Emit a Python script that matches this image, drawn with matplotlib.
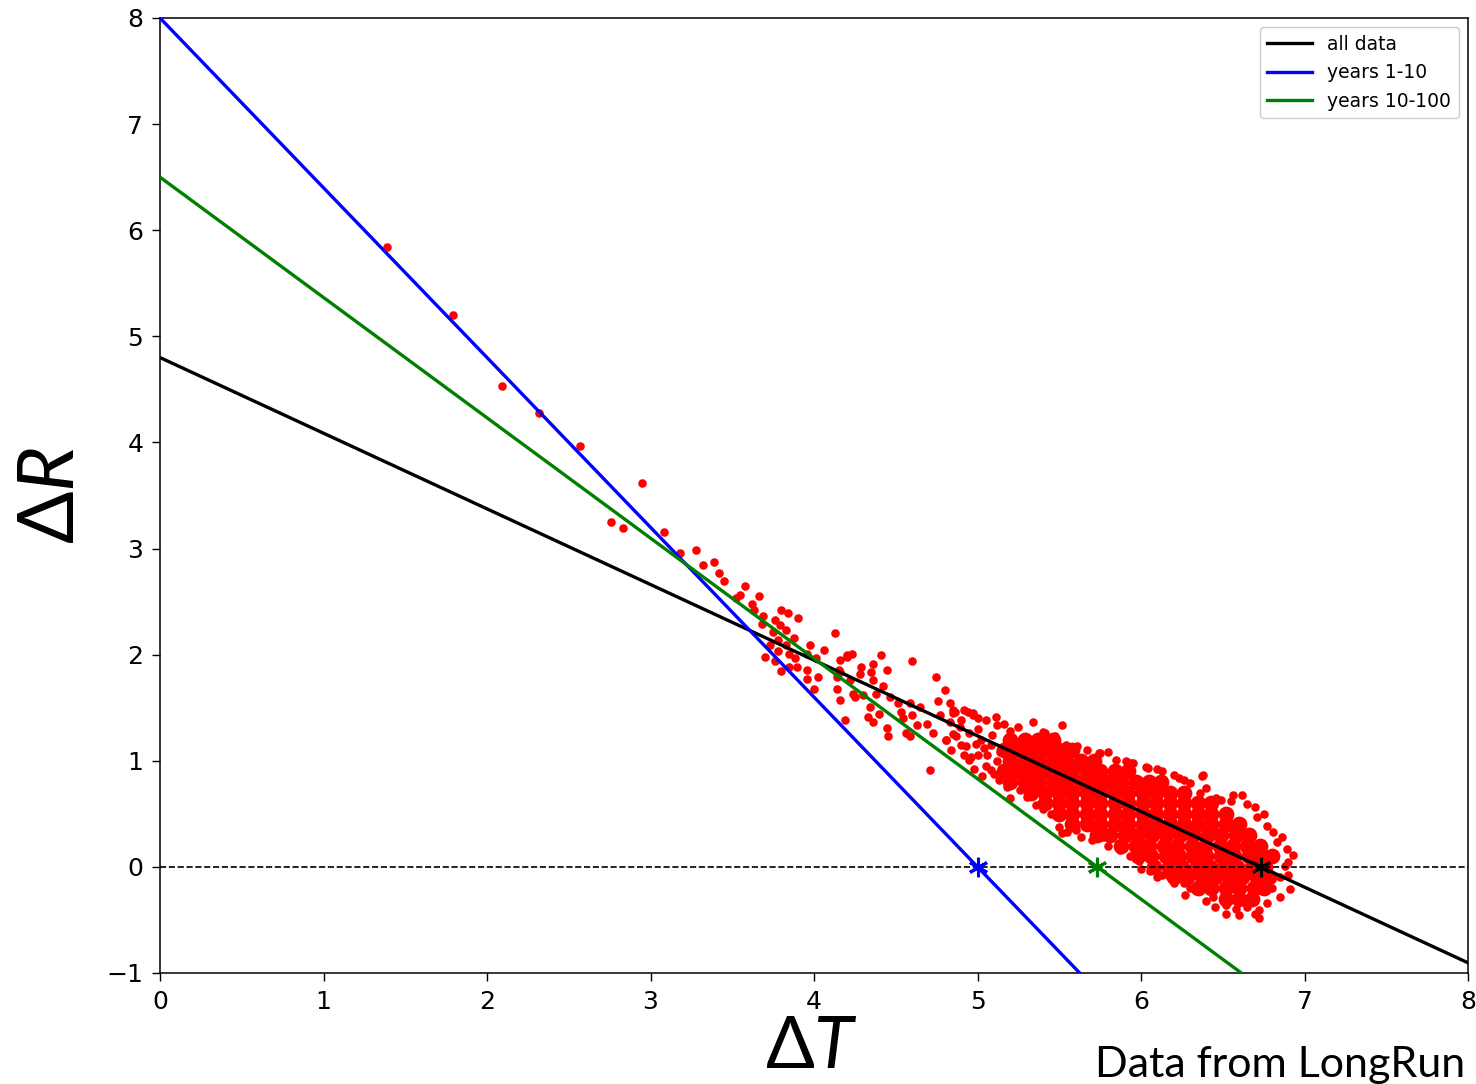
import numpy as np
import matplotlib
matplotlib.use("Agg")
import matplotlib.pyplot as plt

plt.rcParams["mathtext.fontset"] = "custom"
plt.rcParams["mathtext.rm"] = "Lato"
plt.rcParams["mathtext.it"] = "Lato:italic"

# fitted lines: dR = forcing + feedback * dT
fit_labels = ["all data", "years 1-10", "years 10-100"]
fit_colors = ["black", "blue", "green"]
forcing = [4.80, 8.00, 6.50]
feedback = [-0.713, -1.60, -1.134]

# early / sparse annual means (dT, dR)
early_pts = [
    (1.39, 5.845), (1.79, 5.20), (2.09, 4.535), (2.32, 4.28), (2.57, 3.966),
    (2.95, 3.614), (2.76, 3.247), (2.83, 3.196), (3.08, 3.155), (3.18, 2.955),
    (3.28, 2.986), (3.32, 2.845), (3.39, 2.87), (3.42, 2.77), (3.45, 2.69),
    (3.58, 2.65), (3.55, 2.56), (3.52, 2.53), (3.665, 2.555), (3.62, 2.48),
    (3.63, 2.42), (3.80, 2.42), (3.84, 2.39), (3.905, 2.35), (3.69, 2.36),
    (3.76, 2.33), (3.79, 2.28), (3.68, 2.29), (3.83, 2.23), (3.75, 2.21),
    (3.875, 2.155), (3.78, 2.14), (3.73, 2.09), (4.13, 2.20), (3.975, 2.09),
    (3.83, 2.09), (3.70, 1.98), (3.78, 2.03), (3.85, 2.01), (3.885, 1.965),
    (3.955, 2.01), (4.06, 2.04), (4.015, 1.965), (3.76, 1.94), (3.85, 1.88),
    (3.895, 1.88), (3.955, 1.855), (3.80, 1.85), (4.025, 1.79), (3.955, 1.77),
    (4.14, 1.79), (4.16, 1.95), (4.20, 2.00), (4.15, 1.86), (4.00, 1.68),
    (4.14, 1.68),
]

mid_pts = [
    (4.23, 2.01), (4.20, 1.98), (4.41, 2.00), (4.60, 1.94), (4.16, 1.84),
    (4.285, 1.885), (4.36, 1.91), (4.445, 1.855), (4.28, 1.82), (4.35, 1.84),
    (4.22, 1.76), (4.36, 1.76), (4.42, 1.70), (4.745, 1.79), (4.80, 1.67),
    (4.24, 1.63), (4.30, 1.62), (4.16, 1.57), (4.38, 1.63), (4.465, 1.60),
    (4.515, 1.54), (4.34, 1.51), (4.25, 1.60), (4.59, 1.54), (4.65, 1.51),
    (4.76, 1.56), (4.83, 1.54), (4.535, 1.46), (4.60, 1.43), (4.40, 1.445),
    (4.33, 1.415), (4.19, 1.38), (4.36, 1.37), (4.545, 1.40), (4.69, 1.35),
    (4.63, 1.34), (4.77, 1.43), (4.86, 1.46), (4.92, 1.48), (4.975, 1.43),
    (4.83, 1.37), (4.89, 1.32), (4.445, 1.305), (4.455, 1.23), (4.565, 1.26),
    (4.59, 1.23), (4.73, 1.26), (4.81, 1.195), (4.87, 1.23), (4.95, 1.26),
    (4.93, 1.135), (4.99, 1.16), (4.96, 1.04),
]

cloud_edge_pts = [
    (4.85, 1.45), (4.94, 1.46), (5.11, 1.415), (5.16, 1.35), (5.34, 1.37),
    (5.515, 1.34), (5.12, 1.34), (5.41, 1.26), (5.475, 1.23), (5.54, 1.15),
    (5.61, 1.135), (5.67, 1.10), (5.745, 1.07), (5.80, 1.085), (5.85, 1.01),
    (5.91, 0.995), (4.95, 1.01), (5.08, 0.91), (5.13, 0.82), (5.18, 0.755),
    (5.26, 0.72), (5.36, 0.58), (5.45, 0.50), (5.48, 0.49), (5.515, 0.315),
    (5.63, 0.285), (5.77, 0.285), (5.87, 0.16), (4.81, 1.195), (4.84, 1.10),
    (4.71, 0.91), (4.97, 1.45), (4.85, 1.48), (5.40, 1.27), (5.585, 1.13),
    (5.75, 1.07), (5.94, 0.975), (6.03, 0.94), (6.13, 0.90), (6.37, 0.855),
    (6.26, 0.82), (6.49, 0.63), (6.56, 0.68), (6.62, 0.68), (4.85, 1.25),
    (4.90, 1.15), (5.00, 1.05), (5.00, 1.30), (5.05, 0.95), (5.08, 1.15),
    (5.10, 0.88), (5.02, 1.20), (5.05, 1.38), (5.20, 1.28), (5.25, 1.32),
    (5.30, 1.18), (5.06, 1.05), (4.90, 1.38), (4.98, 0.92), (5.12, 1.00),
    (5.20, 0.65), (5.30, 0.66), (5.40, 0.55), (5.50, 0.38), (5.55, 0.33),
    (5.60, 0.35), (5.70, 0.25), (5.80, 0.20), (5.93, 0.10), (5.99, 0.06),
    (6.055, -0.04), (6.13, -0.08), (6.17, -0.09), (6.26, -0.155), (6.27, -0.265),
    (6.36, -0.23), (6.44, -0.28), (6.52, -0.36), (6.52, -0.44), (6.58, -0.40),
    (6.65, -0.375), (6.72, -0.41), (6.72, -0.485), (6.77, -0.345), (6.85, -0.28),
    (6.91, -0.21), (6.90, -0.08), (6.88, 0.01), (6.93, 0.11), (6.89, 0.165),
    (6.83, 0.23), (6.81, 0.33), (6.77, 0.39), (6.71, 0.47), (6.65, 0.59),
    (6.46, 0.65), (6.36, 0.70), (6.30, 0.79), (6.23, 0.84), (6.04, 0.93),
    (5.95, 0.98), (6.62, -0.30), (6.80, -0.20), (6.85, -0.10), (6.40, -0.32),
    (6.30, -0.20), (6.20, -0.15), (6.38, 0.865), (6.00, -0.02), (6.10, -0.10),
    (6.60, -0.45), (6.70, -0.44), (6.45, -0.38), (6.90, 0.05), (6.86, 0.28),
    (6.75, 0.50), (6.70, 0.56), (6.55, 0.62), (6.40, 0.74), (6.20, 0.87),
    (6.10, 0.92), (5.04, 1.12), (5.09, 1.24), (5.14, 1.08), (5.03, 0.86),
    (5.15, 0.93), (5.22, 0.80), (5.28, 0.90), (4.92, 1.05), (5.00, 1.40),
]

# the saturated core of the cloud, read row by row (dR, [dT...])
core_rows = [
    (1.2, [5.20, 5.29, 5.37, 5.46]),
    (1.1, [5.16, 5.24, 5.33, 5.41, 5.50, 5.58]),
    (1.0, [5.20, 5.29, 5.37, 5.46, 5.54, 5.63, 5.71]),
    (0.9, [5.16, 5.24, 5.33, 5.41, 5.50, 5.58, 5.67, 5.75, 5.84, 5.92]),
    (0.8, [5.20, 5.29, 5.37, 5.46, 5.54, 5.63, 5.71, 5.80, 5.88, 5.97, 6.05, 6.12]),
    (0.7, [5.33, 5.41, 5.50, 5.58, 5.67, 5.75, 5.84, 5.92, 6.01, 6.09, 6.18, 6.26]),
    (0.6, [5.41, 5.50, 5.58, 5.67, 5.75, 5.84, 5.92, 6.01, 6.09, 6.18, 6.26, 6.35, 6.43]),
    (0.5, [5.50, 5.58, 5.67, 5.75, 5.84, 5.92, 6.01, 6.09, 6.18, 6.26, 6.35, 6.43, 6.52]),
    (0.4, [5.58, 5.67, 5.75, 5.84, 5.92, 6.01, 6.09, 6.18, 6.26, 6.35, 6.43, 6.52, 6.60]),
    (0.3, [5.73, 5.81, 5.90, 5.98, 6.07, 6.15, 6.24, 6.32, 6.41, 6.49, 6.58, 6.66]),
    (0.2, [5.88, 5.97, 6.05, 6.14, 6.22, 6.31, 6.39, 6.48, 6.56, 6.65, 6.73]),
    (0.1, [5.98, 6.06, 6.15, 6.23, 6.32, 6.40, 6.49, 6.57, 6.66, 6.74, 6.80]),
    (0.0, [6.08, 6.17, 6.25, 6.34, 6.42, 6.51, 6.59, 6.68, 6.76]),
    (-0.1, [6.20, 6.28, 6.37, 6.45, 6.54, 6.62, 6.71, 6.78]),
    (-0.2, [6.35, 6.43, 6.52, 6.60, 6.69, 6.75]),
    (-0.3, [6.52, 6.60, 6.68]),
]

x_ticks = [0, 1, 2, 3, 4, 5, 6, 7, 8]
y_ticks = [-1, 0, 1, 2, 3, 4, 5, 6, 7, 8]


def main():
    fig = plt.figure(figsize=(14.76, 10.84), dpi=100)
    ax = fig.add_axes([0.1084, 0.1024, 0.8862, 0.881])

    pts = np.array(early_pts + mid_pts + cloud_edge_pts)
    core_x = np.concatenate([np.array(xs) for _, xs in core_rows])
    core_y = np.concatenate([np.full(len(xs), y) for y, xs in core_rows])

    ax.scatter(core_x, core_y, s=130, color="red", linewidths=0, zorder=2)
    ax.scatter(pts[:, 0], pts[:, 1], s=38, color="red", linewidths=0, zorder=2)

    ax.axhline(0, color="black", ls="--", lw=1.2, zorder=3)

    xs = np.array([0.0, 8.0])
    for lab, col, f, lam in zip(fit_labels, fit_colors, forcing, feedback):
        ax.plot(xs, f + lam * xs, color=col, lw=2.4, label=lab, zorder=4)
    for col, f, lam in zip(fit_colors, forcing, feedback):
        ax.plot([-f / lam], [0], marker=(6, 2, 0), ms=14, mew=2.2,
                color=col, zorder=5)

    ax.set_xlim(0, 8)
    ax.set_ylim(-1, 8)
    ax.set_xticks(x_ticks)
    ax.set_yticks(y_ticks)
    ax.tick_params(labelsize=18, length=6, width=1, pad=6)
    for sp in ax.spines.values():
        sp.set_linewidth(1.1)

    leg = ax.legend(loc="upper right", fontsize=13.5, handlelength=2.4,
                    framealpha=1, fancybox=True)
    leg.get_frame().set_edgecolor("#cccccc")

    fig.text(0.035, 0.543, r"$\Delta R$", rotation=90, fontsize=56,
             ha="center", va="center")
    fig.text(0.55, 0.001, r"$\Delta T$", fontsize=52, ha="center",
             va="bottom")
    fig.text(1095 / 1476, 0.006, "Data from LongRun", fontsize=31,
             family="Lato", ha="left", va="baseline")

    fig.savefig("out.png", dpi=100)


if __name__ == "__main__":
    main()
